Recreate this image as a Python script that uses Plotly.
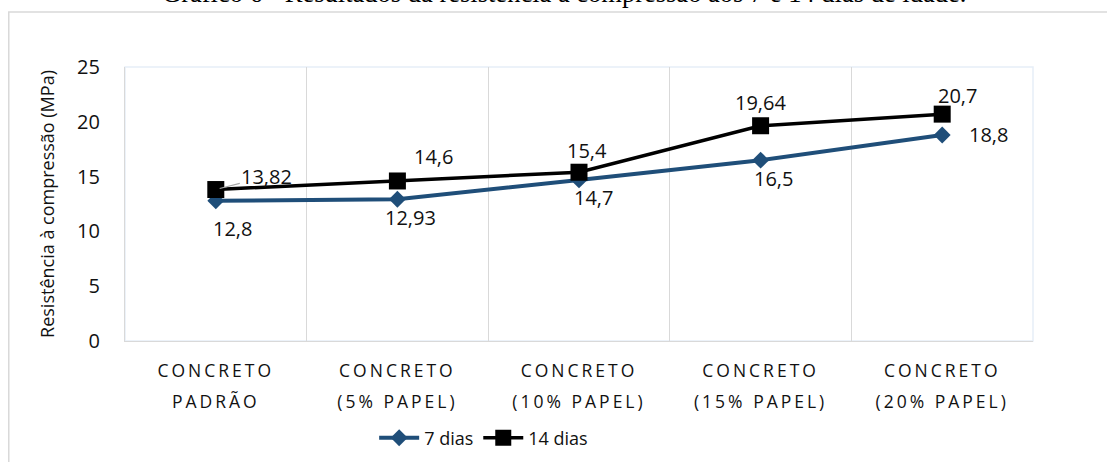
import plotly.graph_objects as go

categories = ["CONCRETO PADRÃO", "CONCRETO (5% PAPEL)", "CONCRETO (10% PAPEL)",
              "CONCRETO (15% PAPEL)", "CONCRETO (20% PAPEL)"]
dias7 = [12.8, 12.93, 14.7, 16.5, 18.8]
dias14 = [13.82, 14.6, 15.4, 19.64, 20.7]
y_ticks = [0, 5, 10, 15, 20, 25]
title_text = "Gráfico 6 - Resultados da resistência à compressão aos 7 e 14 dias de idade."
y_title = "Resistência à compressão (MPa)"

FONT = "Open Sans"
BLUE = "#1F4E79"

def fmt(v):
    return ("%g" % v).replace(".", ",")

def tick_html(c):
    a, b = c.split(" ", 1)
    st = 'font-size:17.5px;letter-spacing:3px'
    return f'<span style="{st}">{a}</span><br><span style="{st}">{b}</span>'

fig = go.Figure()
fig.add_trace(go.Scatter(x=categories, y=dias7, name="7 dias", mode="lines+markers",
                         line=dict(color=BLUE, width=4),
                         marker=dict(symbol="diamond", size=13, color=BLUE)))
fig.add_trace(go.Scatter(x=categories, y=dias14, name="14 dias", mode="lines+markers",
                         line=dict(color="black", width=3.5),
                         marker=dict(symbol="square", size=17, color="black")))

# data label offsets (pixels)
off7 = [(17, -28), (13, -18), (14, -18), (13, -18), (46, 0)]
off14 = [(None, None), (36, 24), (8, 22), (0, 23), (15, 19)]
ann = []
for c, v, (dx, dy) in zip(categories, dias7, off7):
    ann.append(dict(x=c, y=v, xref="x", yref="y", text=fmt(v), showarrow=False,
                    xshift=dx, yshift=dy, font=dict(family=FONT, size=20, color="#111")))
for i, (c, v, (dx, dy)) in enumerate(zip(categories, dias14, off14)):
    if i == 0:
        ann.append(dict(x=c, y=v, xref="x", yref="y", text=fmt(v), showarrow=True,
                        arrowhead=0, arrowwidth=1.2, arrowcolor="#A6A6A6",
                        ax=51, ay=-13, standoff=4,
                        font=dict(family=FONT, size=20, color="#111")))
    else:
        ann.append(dict(x=c, y=v, xref="x", yref="y", text=fmt(v), showarrow=False,
                        xshift=dx, yshift=dy, font=dict(family=FONT, size=20, color="#111")))

ann.append(dict(x=0.4836, y=1.208, xref="paper", yref="paper", xanchor="center",
                yanchor="bottom", text=title_text, showarrow=False,
                font=dict(family="Liberation Serif", size=26.5, color="black")))

fig.update_layout(
    width=1107, height=462,
    margin=dict(l=125, r=74, t=67, b=121, autoexpand=False),
    paper_bgcolor="white", plot_bgcolor="white",
    font=dict(family=FONT, color="#111"),
    annotations=ann,
    showlegend=True,
    legend=dict(orientation="h", x=0.395, y=-0.354, xanchor="center", yanchor="middle",
                font=dict(family=FONT, size=18, color="#111"), itemwidth=40,
                bgcolor="rgba(0,0,0,0)", tracegroupgap=0),
    shapes=[
        dict(type="rect", xref="paper", yref="paper", x0=-0.1280, x1=1.10, y0=-0.62, y1=1.2007,
             line=dict(color="#D9D9D9", width=1.5), layer="below"),
        dict(type="rect", xref="paper", yref="paper", x0=0, x1=1, y0=0, y1=1,
             line=dict(color="#E6EEF8", width=1.5), layer="below"),
    ],
)
fig.update_xaxes(type="category", categoryorder="array", categoryarray=categories,
                 range=[-0.5, 4.5], tickson="boundaries", automargin=False,
                 tickvals=categories, ticktext=[tick_html(c) for c in categories],
                 tickfont=dict(family=FONT, size=24, color="#111"), ticklabelstandoff=6,
                 showgrid=True, gridcolor="#D9D9D9", gridwidth=1.3,
                 showline=True, linecolor="#D9D9D9", linewidth=1.3,
                 ticks="", zeroline=False)
fig.update_yaxes(range=[0, 25], tickvals=y_ticks, ticks="", ticklabelstandoff=20,
                 automargin=False,
                 tickfont=dict(family=FONT, size=20, color="#111"),
                 showgrid=False, zeroline=False,
                 showline=True, linecolor="#D9D9D9", linewidth=1.3,
                 title=dict(text=y_title, standoff=17,
                            font=dict(family=FONT, size=18, color="#111")))

fig.write_html("out.html", config={"displayModeBar": False},
               post_script="document.body.style.margin='0';")
